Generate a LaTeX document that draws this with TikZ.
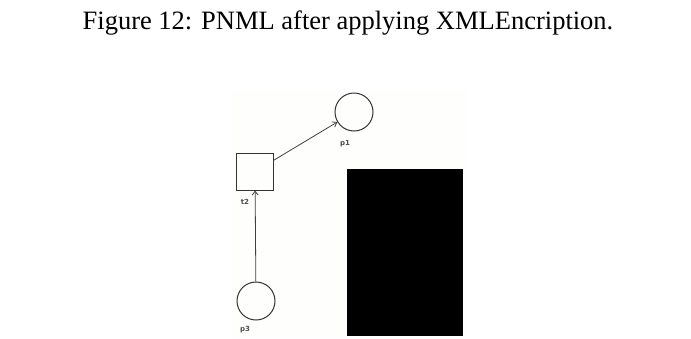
\documentclass[tikz,border=0pt]{standalone}
\usepackage{fontspec}
\setmainfont{Liberation Serif}
\newfontfamily\netfont{DejaVu Sans}
\usetikzlibrary{arrows.meta,positioning}
\definecolor{imgbg}{RGB}{254,254,252}

\begin{document}
\begin{tikzpicture}[x=1pt, y=-1pt,
  place/.style={draw, circle, minimum size=38pt, inner sep=0pt, line width=1pt, draw=black!80},
  trans/.style={draw, rectangle, minimum size=37pt, inner sep=0pt, line width=1pt, draw=black!80},
  lbl/.style={font=\netfont\bfseries\fontsize{7}{8}\selectfont, text=black!70, inner sep=0pt},
  arc/.style={-{Straight Barb[length=4pt, width=6pt]}, line width=0.8pt, draw=black!75}]
  \useasboundingbox (0,0) rectangle (691,338);
  % caption
  \node[font=\fontsize{26.5}{30}\selectfont, anchor=base, inner sep=0pt] (caption) at (348,29) {Figure 12: PNML after applying XMLEncription.};
  % embedded net
  \fill[imgbg] (232,91) rectangle (467,338);
  \node[place] (p1) at (354,112) {};
  \node[trans] (t2) at (255,171.5) {};
  \node[place] (p3) at (256,301) {};
  \node[lbl] (p1l) at (345,144) {p1};
  \node[lbl] (t2l) at (245,202) {t2};
  \node[lbl] (p3l) at (245,330) {p3};
  \fill[black] (347,169) rectangle (463,336);
  \draw[arc] (t2) -- (p1);
  \draw[arc] (p3) -- (t2);
\end{tikzpicture}
\end{document}
